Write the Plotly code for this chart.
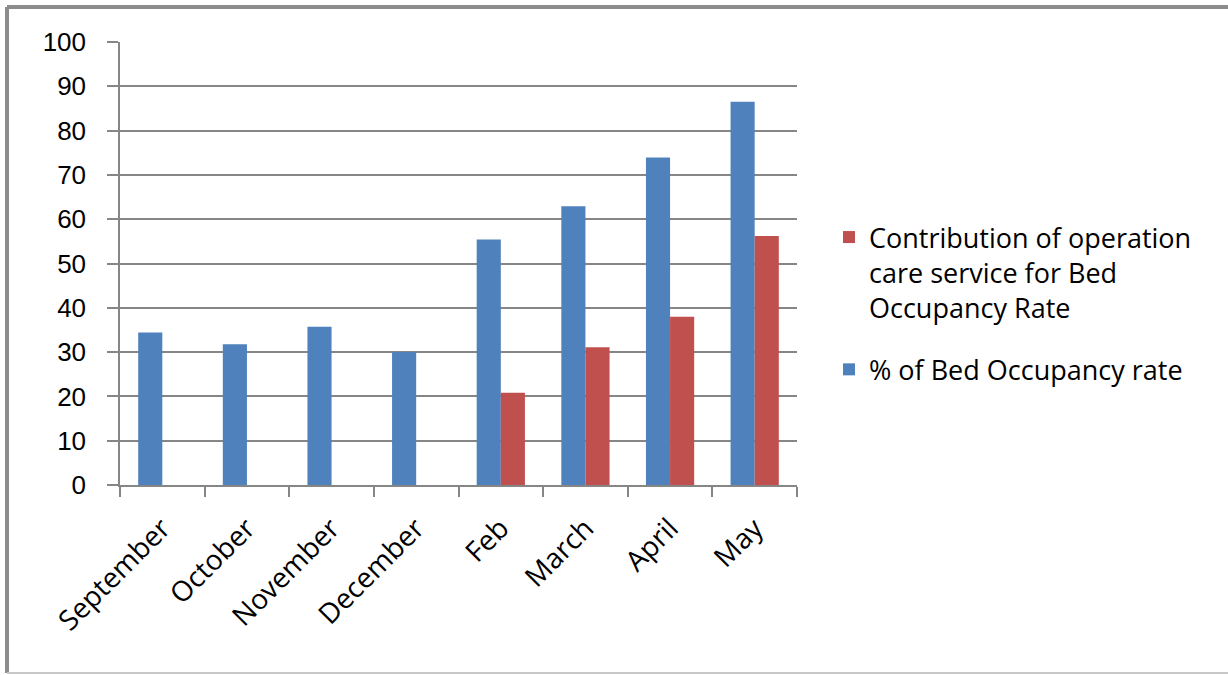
import plotly.graph_objects as go

months = ["September", "October", "November", "December", "Feb", "March", "April", "May"]
bed_occupancy = [34.4, 31.8, 35.7, 30.0, 55.4, 62.9, 73.9, 86.5]
operation_contribution = [None, None, None, None, 20.8, 31.1, 38.0, 56.2]
y_ticks = [0, 10, 20, 30, 40, 50, 60, 70, 80, 90, 100]

W, H = 1228, 675
L, R, T, B = 120, 797, 42, 485

fig = go.Figure()
fig.add_trace(go.Bar(
    x=months, y=bed_occupancy, name="% of Bed Occupancy rate",
    legendgroup="blue", legendrank=2,
    marker=dict(color="#4F81BD", line=dict(width=0)),
))
fig.add_trace(go.Bar(
    x=months, y=operation_contribution,
    name="Contribution of operation<br>care service for Bed<br>Occupancy Rate",
    legendgroup="red", legendrank=1,
    marker=dict(color="#C0504D", line=dict(width=0)),
))

def px_x(v):
    return (v - L) / (R - L)

def px_y(v):
    return (B - v) / (B - T)

# outer frame
fig.add_shape(type="line", xref="paper", yref="paper",
              x0=px_x(7), x1=px_x(1240), y0=px_y(7), y1=px_y(7),
              line=dict(color="#8c8c8c", width=4))
fig.add_shape(type="line", xref="paper", yref="paper",
              x0=px_x(7), x1=px_x(7), y0=px_y(7), y1=px_y(673),
              line=dict(color="#8c8c8c", width=4))
fig.add_shape(type="line", xref="paper", yref="paper",
              x0=px_x(7), x1=px_x(1240), y0=px_y(673), y1=px_y(673),
              line=dict(color="#c8c8c8", width=2))

fig.update_layout(
    width=W, height=H,
    margin=dict(l=L, r=W - R, t=T, b=H - B),
    paper_bgcolor="white", plot_bgcolor="white",
    barmode="group", bargap=0.43, bargroupgap=0,
    font=dict(family="Open Sans", color="#000000"),
    showlegend=True,
    legend=dict(
        traceorder="grouped",
        valign="top",
        x=px_x(829), xanchor="left",
        y=px_y(213), yanchor="top",
        font=dict(size=27, family="Open Sans", color="#000000"),
        tracegroupgap=24,
        bgcolor="rgba(0,0,0,0)",
    ),
    xaxis=dict(
        type="category",
        tickson="boundaries",
        ticks="outside", ticklen=10, tickcolor="#868686", tickwidth=1.5,
        showline=True, linecolor="#868686", linewidth=1.5,
        showgrid=False,
        tickangle=-45,
        tickfont=dict(size=28, family="Open Sans", color="#000000"),
        ticklabelstandoff=14,
    ),
    yaxis=dict(
        range=[0, 100],
        tickvals=y_ticks,
        ticks="outside", ticklen=11, tickcolor="#868686", tickwidth=1.5,
        showline=True, linecolor="#868686", linewidth=1.5,
        showgrid=True, gridcolor="#868686", gridwidth=1.5,
        zeroline=False,
        tickfont=dict(size=26, family="Liberation Sans", color="#000000"),
        ticklabelstandoff=16,
    ),
)

fig.write_html("out.html")
